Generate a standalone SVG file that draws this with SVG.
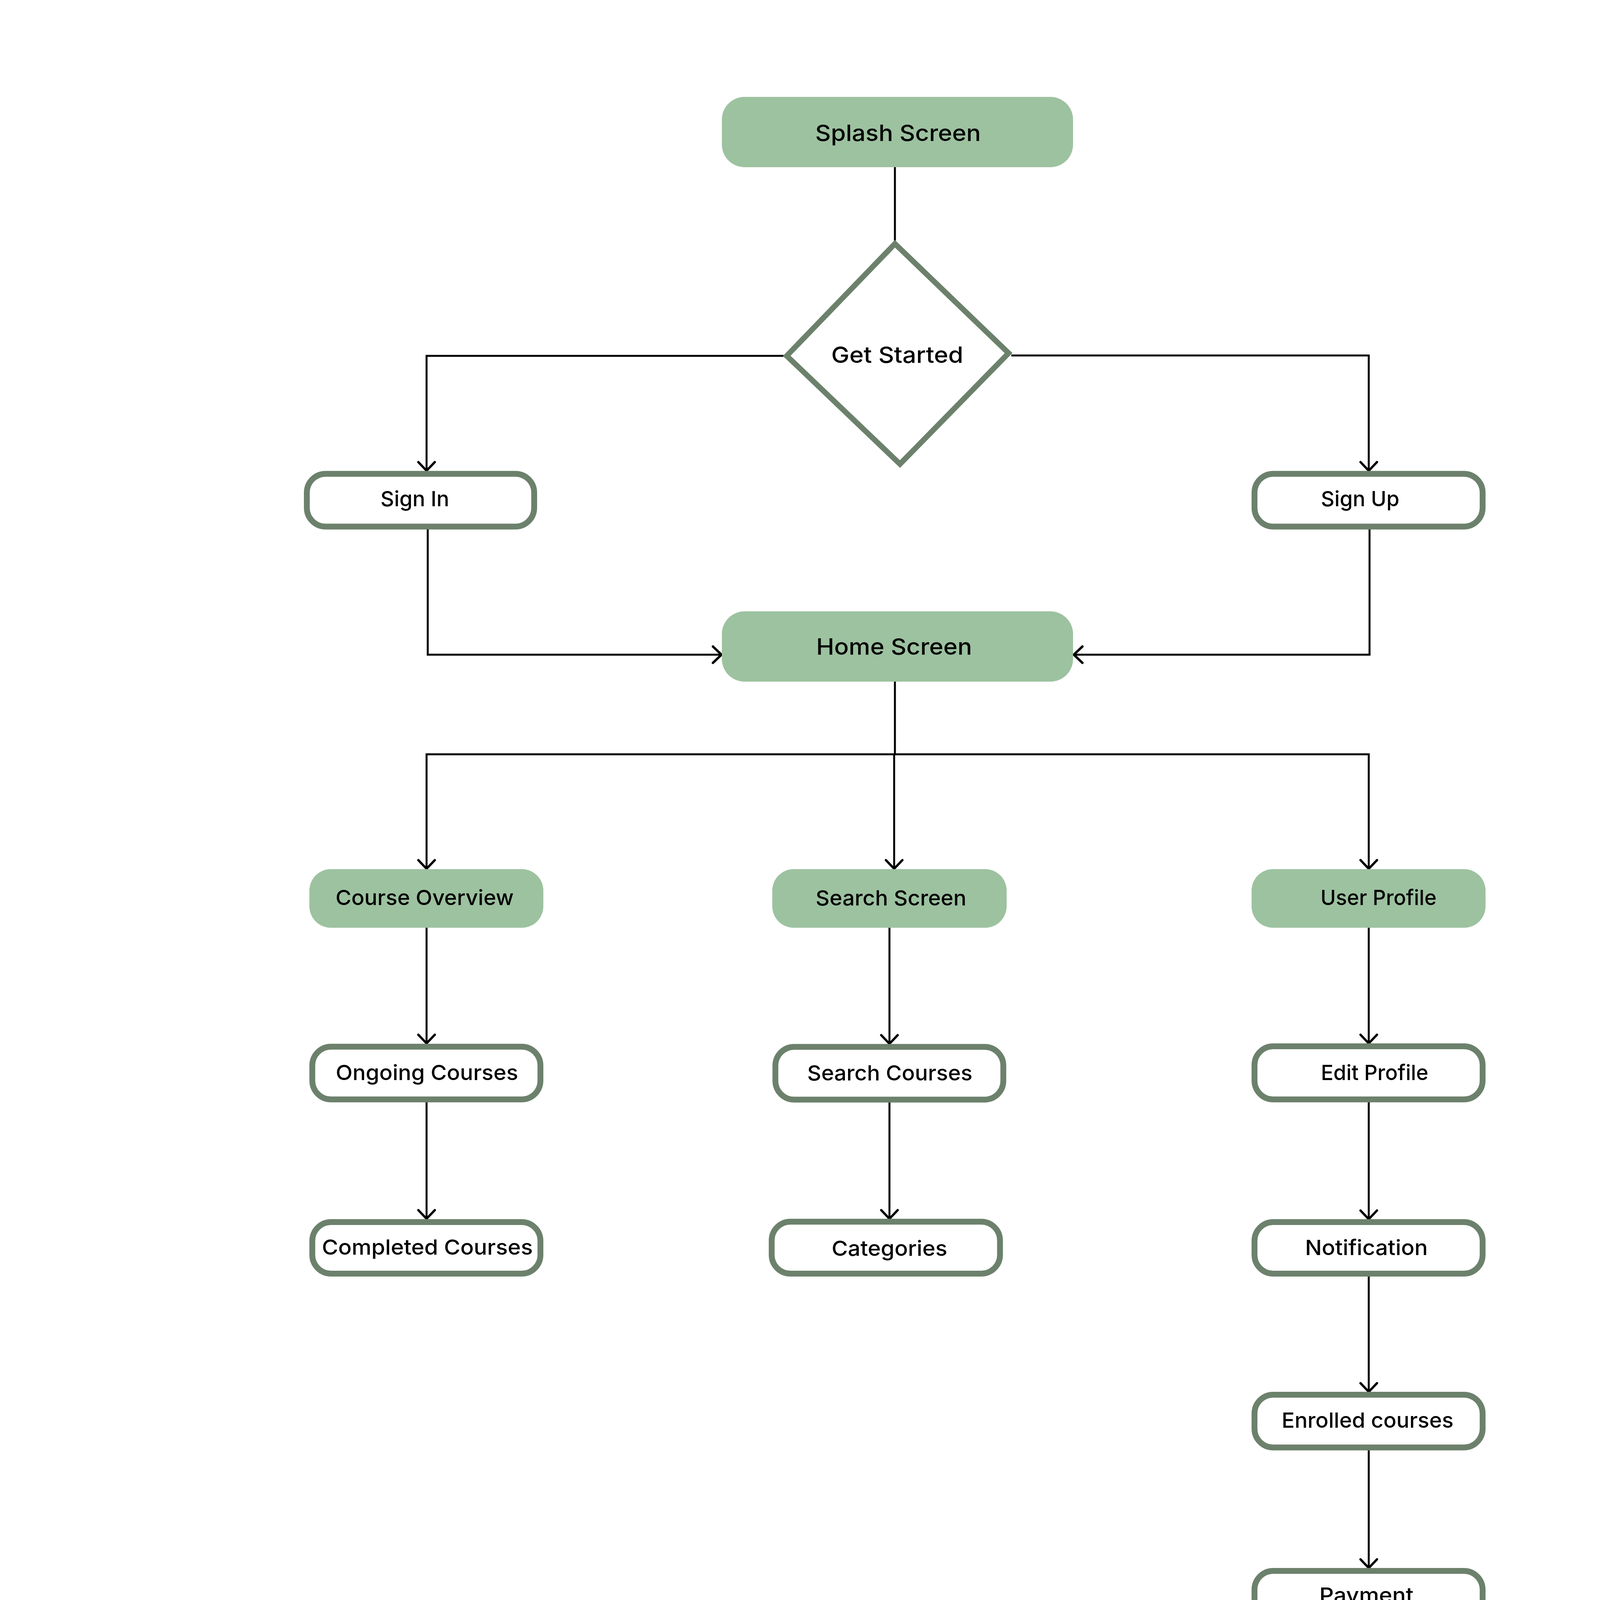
<svg xmlns="http://www.w3.org/2000/svg" width="4650" height="4847" viewBox="0 0 4650 4847">
<defs>
<style>
.fill{fill:#9DC2A0;stroke:none}
.out{fill:#ffffff;stroke:#6C816C;stroke-width:15}
.dia{fill:#ffffff;stroke:#6C816C;stroke-width:14;stroke-linejoin:miter}
.t{font-family:Inter,"Noto Sans","Liberation Sans",sans-serif;font-size:54px;font-weight:500;fill:#000000;text-anchor:middle}
.big{font-size:58px}
.c{fill:none;stroke:#000000;stroke-width:5}
.a{marker-end:url(#arr)}
</style>
<marker id="arr" markerUnits="userSpaceOnUse" viewBox="-30 -28 36 56" refX="0" refY="0" markerWidth="36" markerHeight="56" orient="auto">
<path d="M -22 -21 L 0 0 L -22 21" fill="none" stroke="#000000" stroke-width="6" stroke-linecap="round" stroke-linejoin="round"/>
</marker>
</defs>
<rect width="4650" height="4847" fill="#ffffff"/>
<g id="connectors">
<path class="c" d="M 2291 428 V 616"/>
<path class="c a" d="M 2006 911 H 1092 V 1205"/>
<path class="c a" d="M 2589 910 H 3504 V 1205"/>
<path class="c a" d="M 1095 1355 V 1676 H 1847"/>
<path class="c a" d="M 3506 1355 V 1676 H 2749"/>
<path class="c" d="M 2291 1745 V 1931"/>
<path class="c a" d="M 2291 1931 H 1092 V 2224"/>
<path class="c a" d="M 2291 1931 H 3504 V 2224"/>
<path class="c a" d="M 2289 1931 V 2224"/>
<path class="c a" d="M 1092 2375 V 2671"/>
<path class="c a" d="M 1092 2822 V 3120"/>
<path class="c a" d="M 2277 2375 V 2672"/>
<path class="c a" d="M 2277 2822 V 3120"/>
<path class="c a" d="M 3504 2375 V 2671"/>
<path class="c a" d="M 3504 2822 V 3121"/>
<path class="c a" d="M 3504 3268 V 3563"/>
<path class="c a" d="M 3504 3713 V 4014"/>
<path class="c a" d="M 3504 4161 V 4459"/>
</g>
<g id="splash">
<rect class="fill" x="1848" y="248" width="899" height="180" rx="58"/>
<text class="t big" x="2299" y="361" textLength="424" lengthAdjust="spacingAndGlyphs">Splash Screen</text>
</g>
<g id="getstarted">
<polygon class="dia" points="2291,624 2582,904 2304,1188 2014,911"/>
<text class="t big" x="2297" y="929" textLength="338" lengthAdjust="spacingAndGlyphs">Get Started</text>
</g>
<g id="signin">
<rect class="out" x="785.5" y="1213" width="582" height="135" rx="48"/>
<text class="t" x="1062" y="1296" textLength="176" lengthAdjust="spacingAndGlyphs">Sign In</text>
</g>
<g id="signup">
<rect class="out" x="3211.5" y="1213" width="584" height="135" rx="48"/>
<text class="t" x="3482" y="1296" textLength="201" lengthAdjust="spacingAndGlyphs">Sign Up</text>
</g>
<g id="home">
<rect class="fill" x="1848" y="1565" width="899" height="180" rx="58"/>
<text class="t big" x="2289" y="1676" textLength="399" lengthAdjust="spacingAndGlyphs">Home Screen</text>
</g>
<g id="courseoverview">
<rect class="fill" x="792" y="2225" width="599" height="150" rx="55"/>
<text class="t" x="1087" y="2317" textLength="456" lengthAdjust="spacingAndGlyphs">Course Overview</text>
</g>
<g id="searchscreen">
<rect class="fill" x="1977" y="2225" width="600" height="150" rx="55"/>
<text class="t" x="2281" y="2318" textLength="386" lengthAdjust="spacingAndGlyphs">Search Screen</text>
</g>
<g id="userprofile">
<rect class="fill" x="3204" y="2225" width="599" height="150" rx="55"/>
<text class="t" x="3529" y="2317" textLength="297" lengthAdjust="spacingAndGlyphs">User Profile</text>
</g>
<g id="ongoing">
<rect class="out" x="799.5" y="2679.5" width="584" height="135" rx="48"/>
<text class="t" x="1093" y="2765" textLength="467" lengthAdjust="spacingAndGlyphs">Ongoing Courses</text>
</g>
<g id="completed">
<rect class="out" x="799.5" y="3128.5" width="584" height="132" rx="48"/>
<text class="t" x="1094" y="3212" textLength="540" lengthAdjust="spacingAndGlyphs">Completed Courses</text>
</g>
<g id="searchcourses">
<rect class="out" x="1985" y="2680" width="583.5" height="135" rx="48"/>
<text class="t" x="2278" y="2766" textLength="423" lengthAdjust="spacingAndGlyphs">Search Courses</text>
</g>
<g id="categories">
<rect class="out" x="1975.5" y="3127.5" width="584.5" height="133" rx="48"/>
<text class="t" x="2277" y="3215" textLength="296" lengthAdjust="spacingAndGlyphs">Categories</text>
</g>
<g id="editprofile">
<rect class="out" x="3211.5" y="2678.5" width="584" height="136" rx="48"/>
<text class="t" x="3519" y="2765" textLength="275" lengthAdjust="spacingAndGlyphs">Edit Profile</text>
</g>
<g id="notification">
<rect class="out" x="3211.5" y="3128.5" width="584" height="132" rx="48"/>
<text class="t" x="3498" y="3213" textLength="314" lengthAdjust="spacingAndGlyphs">Notification</text>
</g>
<g id="enrolled">
<rect class="out" x="3211.5" y="3570.5" width="584" height="135" rx="48"/>
<text class="t" x="3501" y="3655" textLength="440" lengthAdjust="spacingAndGlyphs">Enrolled courses</text>
</g>
<g id="payment">
<rect class="out" x="3211.5" y="4021.5" width="584" height="132" rx="48"/>
<text class="t" x="3498" y="4103" textLength="241" lengthAdjust="spacingAndGlyphs">Payment</text>
</g>
<g id="logout">
<rect class="out" x="3211.5" y="4466.5" width="584" height="132" rx="48"/>
<text class="t" x="3484" y="4559" textLength="194" lengthAdjust="spacingAndGlyphs">Log out</text>
</g>
</svg>
